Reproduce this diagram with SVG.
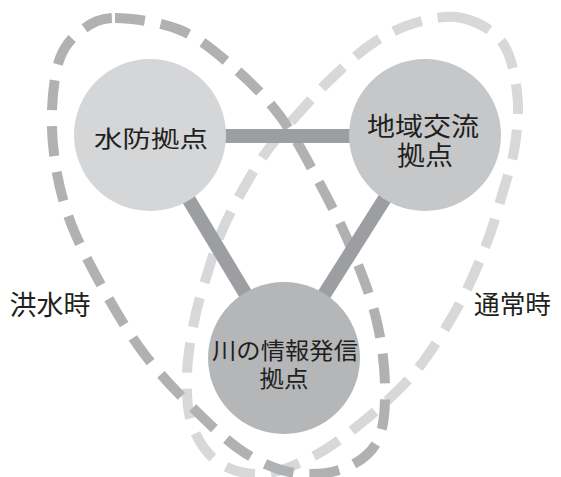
<svg xmlns="http://www.w3.org/2000/svg" width="561" height="477" viewBox="0 0 561 477">
  <style>
    .loop { fill: none; stroke-width: 10; stroke-dasharray: 30 16; }
    .normal { stroke: #d7d8da; }
    .flood { stroke: #b0b1b3; }
    .edge { stroke: #9d9ea1; stroke-width: 14; fill: none; }
    .lbl { font-family: "Noto Sans CJK JP", "Noto Sans", sans-serif; fill: #231f20; text-anchor: middle; }
  </style>
  <rect width="561" height="477" fill="#ffffff"/>
  <g id="loops">
    <path id="loop-normal" class="loop normal" d="M462,18 C476.5,21.2 492.8,29.7 502,42 C511.2,54.3 514.8,74.8 517,92 C519.2,109.2 517.5,127.8 515,145 C512.5,162.2 506.8,178.3 502,195 C497.2,211.7 493,227 486,245 C479,263 470.5,283.5 460,303 C449.5,322.5 434.7,346.2 423,362 C411.3,377.8 402.2,386.3 390,398 C377.8,409.7 363.3,422 350,432 C336.7,442 324.7,451 310,458 C295.3,465 277.3,473.3 262,474 C246.7,474.7 229.7,470.2 218,462 C206.3,453.8 197.2,439.5 192,425 C186.8,410.5 186.7,392.2 187,375 C187.3,357.8 190.8,338.2 194,322 C197.2,305.8 200.8,294.3 206,278 C211.2,261.7 215.7,244 225,224 C234.3,204 249.8,176.3 262,158 C274.2,139.7 286,127.7 298,114 C310,100.3 321.5,87.8 334,76 C346.5,64.2 359.5,51.8 373,43 C386.5,34.2 400.2,27.2 415,23 C429.8,18.8 447.5,14.8 462,18 Z"/>
    <path id="loop-flood" class="loop flood" d="M115,18 C131.3,18 160.5,22 180,30 C199.5,38 215.3,51.7 232,66 C248.7,80.3 265.3,96.3 280,116 C294.7,135.7 308,161.7 320,184 C332,206.3 342.7,227.7 352,250 C361.3,272.3 370.5,295.5 376,318 C381.5,340.5 384.7,364.7 385,385 C385.3,405.3 384.7,426.2 378,440 C371.3,453.8 358.8,462.5 345,468 C331.2,473.5 311.7,475.5 295,473 C278.3,470.5 261.7,463.5 245,453 C228.3,442.5 211.7,426.3 195,410 C178.3,393.7 160,374.7 145,355 C130,335.3 117.2,313.5 105,292 C92.8,270.5 80.2,246.7 72,226 C63.8,205.3 59.3,187.3 56,168 C52.7,148.7 51.3,128.3 52,110 C52.7,91.7 55,71.3 60,58 C65,44.7 72.8,36.7 82,30 C91.2,23.3 98.7,18 115,18 Z"/>
  </g>
  <g id="connectors">
    <line class="edge" x1="150" y1="136" x2="425" y2="136"/>
    <line class="edge" x1="150" y1="135" x2="284" y2="358"/>
    <line class="edge" x1="425" y1="135" x2="284" y2="358"/>
  </g>
  <g id="node-suibou">
    <circle cx="150" cy="135" r="76" fill="#d5d6d8"/>
    <text class="lbl" x="151" y="146.5" font-size="23" textLength="114" lengthAdjust="spacingAndGlyphs">水防拠点</text>
  </g>
  <g id="node-chiiki">
    <circle cx="425" cy="135" r="76" fill="#c6c7c9"/>
    <text class="lbl" font-size="26"><tspan x="423" y="136" textLength="112" lengthAdjust="spacingAndGlyphs">地域交流</tspan><tspan x="425" y="165" textLength="56" lengthAdjust="spacingAndGlyphs">拠点</tspan></text>
  </g>
  <g id="node-kawa">
    <circle cx="284" cy="358" r="76" fill="#b5b6b8"/>
    <text class="lbl" font-size="23"><tspan x="285" y="358.5" textLength="146" lengthAdjust="spacingAndGlyphs">川の情報発信</tspan><tspan x="284" y="386.5" textLength="49" lengthAdjust="spacingAndGlyphs">拠点</tspan></text>
  </g>
  <g id="label-flood">
    <text class="lbl" x="50" y="315" font-size="27" textLength="81" lengthAdjust="spacingAndGlyphs">洪水時</text>
  </g>
  <g id="label-normal">
    <text class="lbl" x="512.5" y="314" font-size="26" textLength="77" lengthAdjust="spacingAndGlyphs">通常時</text>
  </g>
</svg>
